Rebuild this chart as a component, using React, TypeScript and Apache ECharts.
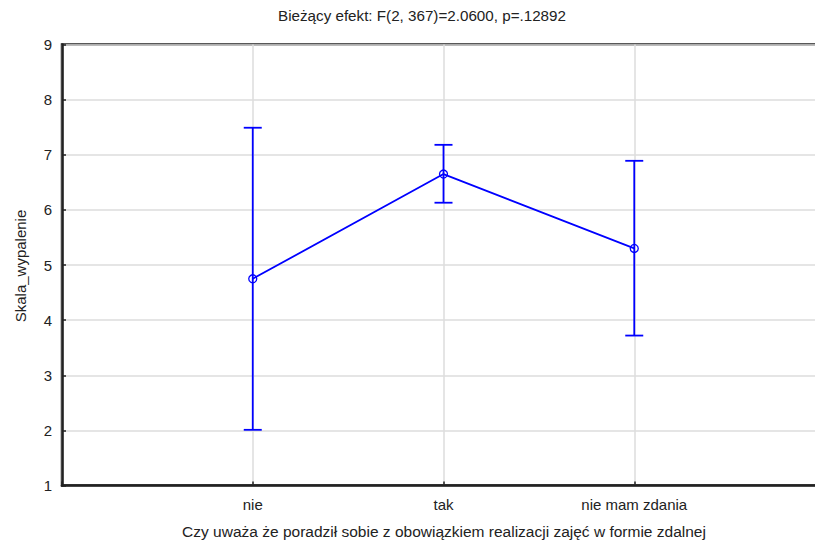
import React, { useEffect, useRef } from "react";
import * as echarts from "echarts";

const categories = ["nie", "tak", "nie mam zdania"];
const means = [4.75, 6.65, 5.3];
const lowerBounds = [2.01, 6.13, 3.72];
const upperBounds = [7.49, 7.18, 6.89];

const titleText = "Bieżący efekt: F(2, 367)=2.0600, p=.12892";
const xTitle = "Czy uważa że poradził sobie z obowiązkiem realizacji zajęć w formie zdalnej";
const yTitle = "Skala_wypalenie";

const FONT = "'Liberation Sans', Arial, sans-serif";
const BLUE = "#0000ff";
const INK = "#222222";

export default function App() {
  const ref = useRef<HTMLDivElement>(null);

  useEffect(() => {
    if (!ref.current) return;
    const chart = echarts.init(ref.current, null, { renderer: "svg" });

    const meanData = means.map((m, i) => [i + 1, m]);
    const errData = categories.map((_, i) => [i + 1, lowerBounds[i], upperBounds[i]]);

    chart.setOption({
      animation: false,
      backgroundColor: "#ffffff",
      textStyle: { fontFamily: FONT },
      grid: {
        left: 62,
        top: 44.5,
        width: 763,
        height: 441,
        show: true,
        borderColor: INK,
        borderWidth: 2.5,
        backgroundColor: "transparent",
      },
      xAxis: {
        type: "value",
        min: 0,
        max: 4,
        interval: 1,
        axisLine: { show: true, lineStyle: { color: INK, width: 2.5 } },
        axisTick: { show: true, inside: true, length: 4, lineStyle: { color: INK, width: 1.5 } },
        splitLine: { show: true, lineStyle: { color: "#dcdcdc", width: 1.5 } },
        axisLabel: {
          margin: 11,
          fontSize: 15,
          color: INK,
          fontFamily: FONT,
          formatter: (v: number) => (v >= 1 && v <= categories.length ? categories[v - 1] : ""),
        },
      },
      yAxis: {
        type: "value",
        min: 1,
        max: 9,
        interval: 1,
        axisLine: { show: true, lineStyle: { color: INK, width: 2.5 } },
        axisTick: { show: true, inside: true, length: 4, lineStyle: { color: INK, width: 1.5 } },
        splitLine: { show: true, lineStyle: { color: "#dcdcdc", width: 1.5 } },
        axisLabel: { margin: 10, fontSize: 15, color: INK, fontFamily: FONT },
      },
      graphic: [
        {
          type: "text",
          x: 422,
          y: 15,
          style: {
            text: titleText,
            fontSize: 15.2,
            fontFamily: FONT,
            fill: INK,
            align: "center",
            verticalAlign: "middle",
          },
        },
        {
          type: "text",
          x: 444,
          y: 531,
          style: {
            text: xTitle,
            fontSize: 15.5,
            fontFamily: FONT,
            fill: INK,
            align: "center",
            verticalAlign: "middle",
          },
        },
        {
          type: "text",
          x: 20,
          y: 266,
          rotation: Math.PI / 2,
          style: {
            text: yTitle,
            fontSize: 15,
            fontFamily: FONT,
            fill: INK,
            align: "center",
            verticalAlign: "middle",
          },
        },
      ],
      series: [
        {
          type: "line",
          data: meanData,
          z: 3,
          symbol: "circle",
          symbolSize: 8,
          lineStyle: { color: BLUE, width: 1.8 },
          itemStyle: { color: "rgba(0,0,0,0)", borderColor: BLUE, borderWidth: 1.3 },
        },
        {
          type: "custom",
          data: errData,
          z: 4,
          renderItem: (_params: any, api: any) => {
            const x = api.value(0);
            const lo = api.coord([x, api.value(1)]);
            const hi = api.coord([x, api.value(2)]);
            const cap = 9;
            const style = { stroke: BLUE, lineWidth: 1.8 };
            return {
              type: "group",
              children: [
                { type: "line", shape: { x1: lo[0], y1: lo[1], x2: hi[0], y2: hi[1] }, style },
                { type: "line", shape: { x1: lo[0] - cap, y1: lo[1], x2: lo[0] + cap, y2: lo[1] }, style },
                { type: "line", shape: { x1: hi[0] - cap, y1: hi[1], x2: hi[0] + cap, y2: hi[1] }, style },
              ],
            };
          },
        },
      ],
    });

    return () => chart.dispose();
  }, []);

  return (
    <div
      style={{
        position: "fixed",
        left: 0,
        top: 0,
        width: 815,
        height: 544,
        overflow: "hidden",
        background: "#fff",
      }}
    >
      <div ref={ref} style={{ width: 840, height: 544 }} />
    </div>
  );
}
